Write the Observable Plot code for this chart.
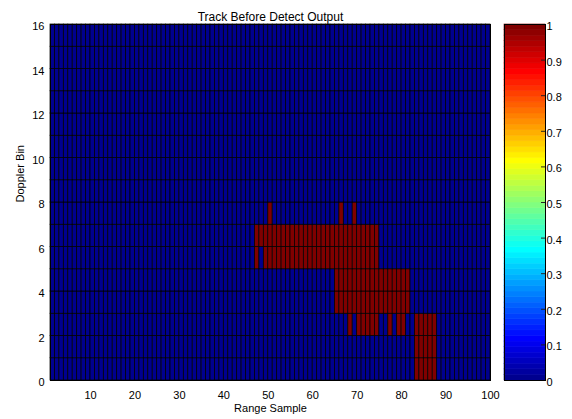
<!DOCTYPE html>
<html>
<head>
<meta charset="utf-8">
<script src="https://cdn.jsdelivr.net/npm/d3@7"></script>
<script src="https://cdn.jsdelivr.net/npm/@observablehq/plot@0.6"></script>
<style>
  html, body { margin: 0; padding: 0; background: #fff; }
  #chart { position: relative; width: 572px; height: 419px; overflow: hidden; background: #fff; }
  #chart svg { position: absolute; top: 0; }
</style>
</head>
<body>
<div id="chart"></div>
<script>
// Track-before-detect output: 16 Doppler bins x 99 range cells (samples 1..100)
const rangeExtent = [1, 100];
const dopplerExtent = [0, 16];
const rangeTicks = [10, 20, 30, 40, 50, 60, 70, 80, 90, 100];
const dopplerTicks = [0, 2, 4, 6, 8, 10, 12, 14, 16];
const colorTicks = [0, 0.1, 0.2, 0.3, 0.4, 0.5, 0.6, 0.7, 0.8, 0.9, 1];

// Runs of range cells where the detector output is 1 (all other cells are 0)
const runBin   = [ 7,  7,  7,  6,  5,  5,  4,  3,  2,  2,  2,  2,  2,  1,  0];
const runStart = [50, 66, 69, 47, 47, 49, 65, 65, 68, 70, 77, 79, 83, 83, 83];
const runEnd   = [50, 66, 69, 74, 47, 74, 81, 81, 68, 74, 77, 80, 87, 87, 87];

const detected = (bin, range) =>
  runBin.some((b, k) => b === bin && range >= runStart[k] && range <= runEnd[k]);

const cells = [];
for (let bin = dopplerExtent[0]; bin < dopplerExtent[1]; bin++) {
  for (let range = rangeExtent[0]; range < rangeExtent[1]; range++) {
    cells.push({bin, range, value: detected(bin, range) ? 1 : 0});
  }
}

// 64-entry "jet" colormap, built the way MATLAB's jet(64) is
const jet64 = (() => {
  const m = 64, n = 16;
  const u = [];
  for (let i = 1; i <= n; i++) u.push(i / n);
  for (let i = 1; i < n; i++) u.push(1);
  for (let i = n; i >= 1; i--) u.push(i / n);
  const map = Array.from({length: m}, () => [0, 0, 0]);
  u.forEach((v, k) => {
    const g = n / 2 + 1 + k;           // 1-based row index for green
    const r = g + n, b = g - n;
    if (g >= 1 && g <= m) map[g - 1][1] = v;
    if (r >= 1 && r <= m) map[r - 1][0] = v;
    if (b >= 1 && b <= m) map[b - 1][2] = v;
  });
  return map.map(([r, g, b]) => `rgb(${Math.round(r * 255)},${Math.round(g * 255)},${Math.round(b * 255)})`);
})();
const jet = (t) => jet64[Math.max(0, Math.min(63, Math.floor(t * 64)))];
const colorScale = {type: "linear", domain: [0, 1], interpolate: jet};
const font = "'Liberation Sans', Arial, Helvetica, sans-serif";

const main = Plot.plot({
  width: 500,
  height: 419,
  marginLeft: 50,
  marginRight: 10,
  marginTop: 24,
  marginBottom: 39,
  style: {fontFamily: font, fontSize: "11px", background: "transparent", color: "#000"},
  x: {domain: rangeExtent, label: null},
  y: {domain: dopplerExtent, label: null},
  color: colorScale,
  marks: [
    Plot.rect(cells, {
      x1: "range", x2: (d) => d.range + 1,
      y1: "bin", y2: (d) => d.bin + 1,
      fill: "value", stroke: "black", strokeWidth: 0.75
    }),
    Plot.frame({stroke: "black"}),
    Plot.axisX({ticks: rangeTicks, tickSize: 0, tickPadding: 11, label: null}),
    Plot.axisY({ticks: dopplerTicks, tickSize: 0, tickPadding: 6, dy: 2, label: null}),
    Plot.text(["Track Before Detect Output"], {text: (d) => d, frameAnchor: "top", dy: -12, fontSize: 12}),
    Plot.text(["Range Sample"], {text: (d) => d, frameAnchor: "bottom", dy: 31, fontSize: 11}),
    Plot.text(["Doppler Bin"], {text: (d) => d, frameAnchor: "left", dx: -30, rotate: -90, fontSize: 11})
  ]
});
main.style.left = "0px";

// Colorbar: the 64 colormap steps with value ticks on the right
const levels = d3.range(64).map((i) => ({lo: i / 64, hi: (i + 1) / 64}));
const bar = Plot.plot({
  width: 72,
  height: 419,
  marginLeft: 4,
  marginRight: 27,
  marginTop: 24,
  marginBottom: 39,
  style: {fontFamily: font, fontSize: "11px", background: "transparent", color: "#000"},
  y: {domain: [0, 1], label: null},
  color: colorScale,
  marks: [
    Plot.rect(levels, {
      y1: "lo", y2: "hi",
      fill: (d) => (d.lo + d.hi) / 2,
      stroke: (d) => (d.lo + d.hi) / 2, strokeWidth: 0.6
    }),
    Plot.ruleY(colorTicks, {y: (d) => d, insetLeft: 37, stroke: "#222"}),
    Plot.frame({stroke: "black"}),
    Plot.axisY({anchor: "right", ticks: colorTicks, tickSize: 0, tickPadding: 1, dy: 2,
      tickFormat: d3.format("~g"), label: null})
  ]
});
bar.style.left = "500px";

document.getElementById("chart").append(main, bar);
</script>
</body>
</html>
